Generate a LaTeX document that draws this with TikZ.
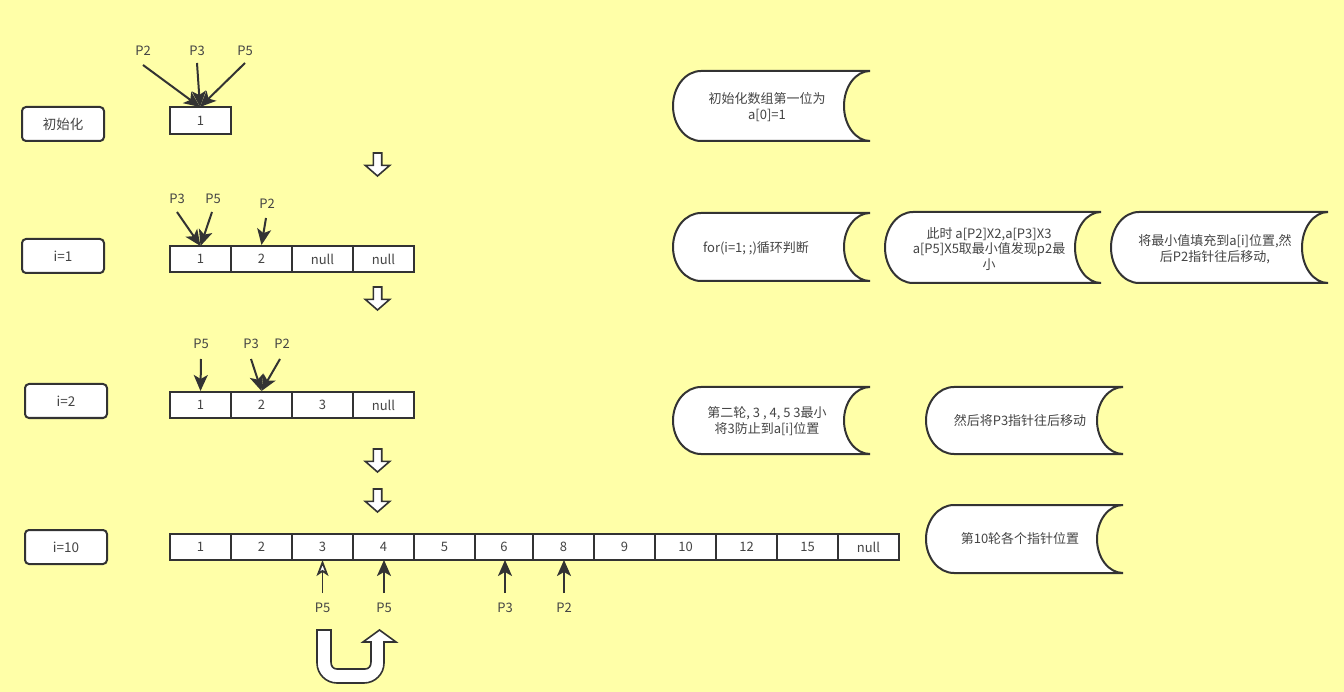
\documentclass[tikz,border=0pt]{standalone}
\usepackage{fontspec}
\setmainfont{Noto Sans CJK SC}
\usetikzlibrary{arrows.meta}
\definecolor{bg}{HTML}{FFFFA8}
\definecolor{ln}{HTML}{333333}
\definecolor{tx}{HTML}{444444}
\newcommand\tapebox[4]{%
  \pgfmathsetmacro\tbxa{#1}\pgfmathsetmacro\tbya{#2}%
  \pgfmathsetmacro\tbxb{#3}\pgfmathsetmacro\tbyb{#4}%
  \pgfmathsetmacro\tbym{(\tbya+\tbyb)/2}%
  \pgfmathsetmacro\tbry{(\tbyb-\tbya)/2}%
  \pgfmathsetmacro\tbs{28}%
  \pgfmathsetmacro\tbxl{\tbxa+\tbs}%
  \pgfmathsetmacro\tbxlc{\tbxa+\tbs-0.5523*\tbs}%
  \pgfmathsetmacro\tbxr{\tbxb-\tbs+2}%
  \pgfmathsetmacro\tbxrc{\tbxb-0.5523*(\tbs-2)}%
  \pgfmathsetmacro\tbyu{\tbym-0.5523*\tbry}%
  \pgfmathsetmacro\tbyd{\tbym+0.5523*\tbry}%
  \draw[tapeline] (\tbxl,\tbya) -- (\tbxb,\tbya)
    .. controls (\tbxrc,\tbya) and (\tbxr,\tbyu) .. (\tbxr,\tbym)
    .. controls (\tbxr,\tbyd) and (\tbxrc,\tbyb) .. (\tbxb,\tbyb)
    -- (\tbxl,\tbyb)
    .. controls (\tbxlc,\tbyb) and (\tbxa,\tbyd) .. (\tbxa,\tbym)
    .. controls (\tbxa,\tbyu) and (\tbxlc,\tbya) .. cycle;
}
\newcommand\blockdown[2]{%
  \pgfmathsetmacro\bdl{#1-4.2}\pgfmathsetmacro\bdr{#1+4.2}%
  \pgfmathsetmacro\bdL{#1-12.2}\pgfmathsetmacro\bdR{#1+12.2}%
  \pgfmathsetmacro\bdh{#2+12.4}\pgfmathsetmacro\bdt{#2+23}%
  \draw[blk] (\bdl,#2) -- (\bdr,#2) -- (\bdr,\bdh) -- (\bdR,\bdh) -- (#1,\bdt)
    -- (\bdL,\bdh) -- (\bdl,\bdh) -- cycle;
}
\begin{document}
\begin{tikzpicture}[x=1pt,y=-1pt,
  every node/.style={font=\fontsize{13}{16}\selectfont, text=tx},
  cell/.style={draw=ln, line width=2pt, fill=white, minimum height=26, inner sep=0pt},
  lbl/.style={draw=ln, line width=2pt, fill=white, rounded corners=4pt, minimum width=82, minimum height=34, inner sep=0pt, font=\fontsize{13.5}{16}\selectfont},
  plbl/.style={font=\fontsize{13}{14}\selectfont, inner sep=1pt},
  txt/.style={align=center, inner sep=0pt},
  tapeline/.style={draw=ln, line width=2pt, fill=white},
  blk/.style={draw=ln, line width=1.6pt, fill=white, line join=miter},
  ptr/.style={draw=ln, line width=2pt, -{Stealth[length=16pt,width=14pt,inset=4pt]}},
  ptro/.style={draw=ln, line width=1.8pt, -{Stealth[length=16pt,width=12pt,inset=4pt,fill=white]}}]
\useasboundingbox (0,0) rectangle (1344,692);
\fill[bg] (0,0) rectangle (1344,692);

% left labels
\node[lbl] (l0) at (63,124) {初始化};
\node[lbl] (l1) at (63,256) {i=1};
\node[lbl] (l2) at (66,401) {i=2};
\node[lbl] (l3) at (66,547) {i=10};

% row 0
\node[cell, minimum width=61, minimum height=27] (r0c1) at (200.5,120.5) {1};
\node[plbl] (a0p2) at (143,51) {P2};
\node[plbl] (a0p3) at (197,51) {P3};
\node[plbl] (a0p5) at (245,51) {P5};
\coordinate (s0p2) at (143,65);
\coordinate (s0p3) at (197,63);
\coordinate (s0p5) at (245,63);
\coordinate (e0) at (200,107);
\draw[ptr] (s0p2) -- (e0);
\draw[ptr] (s0p3) -- (e0);
\draw[ptr] (s0p5) -- (e0);

% row 1
\foreach \a/\b/\t [count=\i] in {170/231/1,231/292/2,292/353/null,353/414/null}
  \node[cell, minimum width=\b-\a] (r1c\i) at ({(\a+\b)/2},259) {\t};
\node[plbl] (a1p3) at (177,199) {P3};
\node[plbl] (a1p5) at (213,199) {P5};
\node[plbl] (a1p2) at (267,204) {P2};
\coordinate (s1p3) at (177,212);
\coordinate (s1p5) at (212,212);
\coordinate (s1p2) at (266,218);
\coordinate (e1a) at (200.5,246);
\draw[ptr] (s1p3) -- (e1a);
\draw[ptr] (s1p5) -- (e1a);
\draw[ptr] (s1p2) -- (r1c2.north);

% row 2
\foreach \a/\b/\t [count=\i] in {170/231/1,231/292/2,292/353/3,353/414/null}
  \node[cell, minimum width=\b-\a] (r2c\i) at ({(\a+\b)/2},405) {\t};
\node[plbl] (a2p5) at (201,344) {P5};
\node[plbl] (a2p3) at (251,344) {P3};
\node[plbl] (a2p2) at (282,344) {P2};
\coordinate (s2p5) at (201,359);
\coordinate (s2p3) at (251,359);
\coordinate (s2p2) at (280,359);
\draw[ptr] (s2p5) -- (r2c1.north);
\draw[ptr] (s2p3) -- (r2c2.north);
\draw[ptr] (s2p2) -- (r2c2.north);

% row 3
\foreach \a/\b/\t [count=\i] in {170/231/1,231/292/2,292/353/3,353/414/4,414/475/5,475/533/6,533/594/8,594/655/9,655/716/10,716/777/12,777/838/15,838/899/null}
  \node[cell, minimum width=\b-\a] (r3c\i) at ({(\a+\b)/2},547) {\t};
\node[plbl] (a3p5a) at (322.5,608) {P5};
\node[plbl] (a3p5b) at (384,608) {P5};
\node[plbl] (a3p3) at (505,608) {P3};
\node[plbl] (a3p2) at (564,608) {P2};
\coordinate (s3p5a) at (322.5,593);
\coordinate (s3p5b) at (384,593);
\coordinate (s3p3) at (505,593);
\coordinate (s3p2) at (564,593);
\coordinate (e3p5a) at (322.5,560);
\coordinate (e3p5b) at (384,560);
\coordinate (e3p3) at (505,560);
\coordinate (e3p2) at (564,560);
\draw[ptro] (s3p5a) -- (e3p5a);
\draw[ptr] (s3p5b) -- (e3p5b);
\draw[ptr] (s3p3) -- (e3p3);
\draw[ptr] (s3p2) -- (e3p2);

% block arrows
\blockdown{377.5}{153}
\blockdown{377.5}{287}
\blockdown{377.5}{449}
\blockdown{377.5}{489}

% U-turn arrow
\draw[blk] (317,630) -- (317,663) .. controls (317,674) and (326,683) .. (337,683)
  -- (364,683) .. controls (375,683) and (384,674) .. (384,663)
  -- (384,642) -- (396,642) -- (379.5,630) -- (363,642) -- (371,642)
  -- (371,662) .. controls (371,666) and (369,669) .. (365,669)
  -- (337,669) .. controls (333,669) and (331,666) .. (331,662)
  -- (331,630) -- cycle;

% tape shapes
\tapebox{673}{71}{870}{141}
\node[txt] (n1) at (767,107) {初始化数组第一位为\\a[0]=1};
\tapebox{673}{213}{870}{281}
\node[txt] (n2) at (756,248) {for(i=1; ;)循环判断};
\tapebox{885}{212}{1101}{283}
\node[txt, font=\fontsize{13}{15.5}\selectfont] (n3) at (989,249) {此时 a[P2]X2,a[P3]X3\\a[P5]X5取最小值发现p2最\\小};
\tapebox{1111}{212}{1328}{283}
\node[txt] (n4) at (1215,249.5) {将最小值填充到a[i]位置,然\\后P2指针往后移动,};
\tapebox{673}{387}{870}{454}
\node[txt] (n5) at (767,421.5) {第二轮, 3 , 4, 5 3最小\\将3防止到a[i]位置};
\tapebox{926}{387}{1123}{454}
\node[txt] (n6) at (1020,421) {然后将P3指针往后移动};
\tapebox{926}{505}{1123}{573}
\node[txt] (n7) at (1020,539) {第10轮各个指针位置};
\end{tikzpicture}
\end{document}
